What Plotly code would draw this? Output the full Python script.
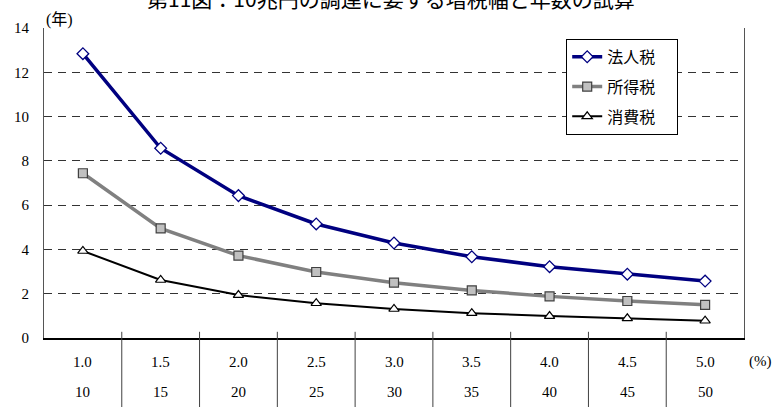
import plotly.graph_objects as go

# ---- data ----
rates_pct = ["1.0", "1.5", "2.0", "2.5", "3.0", "3.5", "4.0", "4.5", "5.0"]
rates_pts = ["10", "15", "20", "25", "30", "35", "40", "45", "50"]
corp_tax = [12.84, 8.57, 6.43, 5.15, 4.29, 3.67, 3.22, 2.88, 2.57]
income_tax = [7.44, 4.95, 3.72, 2.98, 2.50, 2.15, 1.88, 1.67, 1.50]
consumption_tax = [3.93, 2.62, 1.94, 1.57, 1.31, 1.12, 0.99, 0.89, 0.78]
series_names = ["法人税", "所得税", "消費税"]
y_ticks = [0, 2, 4, 6, 8, 10, 12, 14]
title_text = "第11図：10兆円の調達に要する増税幅と年数の試算"

xs = list(range(len(rates_pct)))
SERIF = "Liberation Serif, Times New Roman, Noto Sans CJK JP, serif"
CJK = "Liberation Serif, Noto Sans CJK JP, serif"
PAD = "\u00a0" * 4

fig = go.Figure()
fig.add_trace(go.Scatter(
    x=xs, y=corp_tax, name=series_names[0] + PAD, mode="lines+markers",
    line=dict(color="#000080", width=3.5),
    marker=dict(symbol="diamond", size=9, color="white",
                line=dict(color="#000080", width=1.3)),
    legendgroup="a"))
fig.add_trace(go.Scatter(
    x=xs, y=income_tax, name=series_names[1] + PAD, mode="lines+markers",
    line=dict(color="#808080", width=3.5),
    marker=dict(symbol="square", size=9, color="#C0C0C0",
                line=dict(color="#404040", width=1.2)),
    legendgroup="b"))
fig.add_trace(go.Scatter(
    x=xs, y=consumption_tax, name=series_names[2] + PAD, mode="lines+markers",
    line=dict(color="#000000", width=2),
    marker=dict(symbol="triangle-up", size=9, color="white",
                line=dict(color="#000000", width=1.2)),
    legendgroup="c"))

# table separators below the axis (category boundaries)
for i in range(len(xs) - 1):
    fig.add_shape(type="line", xref="x", yref="paper",
                  x0=i + 0.5, x1=i + 0.5, y0=0.02, y1=-0.35,
                  line=dict(color="#404040", width=1))

# table row labels
for i, (a, b) in enumerate(zip(rates_pct, rates_pts)):
    fig.add_annotation(x=i, y=-0.077, xref="x", yref="paper", text=a,
                       showarrow=False, font=dict(family=SERIF, size=15, color="black"),
                       yanchor="middle")
    fig.add_annotation(x=i, y=-0.174, xref="x", yref="paper", text=b,
                       showarrow=False, font=dict(family=SERIF, size=15, color="black"),
                       yanchor="middle")

fig.add_annotation(x=1.0, y=-0.077, xref="paper", yref="paper", text="(%)",
                   showarrow=False, xanchor="left", xshift=3,
                   font=dict(family=SERIF, size=15, color="black"), yanchor="middle")
fig.add_annotation(x=0.0, y=1.0, xref="paper", yref="paper", text="(年)",
                   showarrow=False, xanchor="left", yanchor="bottom", yshift=-3,
                   font=dict(family=CJK, size=16, color="black"))

fig.update_layout(
    width=777, height=407,
    margin=dict(l=44, r=33, t=28, b=69),
    paper_bgcolor="white", plot_bgcolor="white",
    title=dict(text=title_text, x=0.503, xanchor="center", y=1.0, yref="container",
               yanchor="middle", font=dict(family="Noto Sans CJK JP", size=21, color="black")),
    showlegend=True,
    legend=dict(x=0.746, y=0.965, xanchor="left", yanchor="top",
                bgcolor="white", bordercolor="black", borderwidth=1,
                font=dict(family=CJK, size=16, color="black"),
                traceorder="grouped", tracegroupgap=6, itemwidth=30),
    xaxis=dict(range=[-0.5, len(xs) - 0.5], showticklabels=False, showgrid=False,
               zeroline=False, showline=True, linecolor="black", linewidth=1.5,
               ticks=""),
    yaxis=dict(range=[0, 14], tickvals=y_ticks, showgrid=True, gridcolor="#333333",
               griddash="8px,6px", gridwidth=1, zeroline=False,
               showline=True, linecolor="#555555", linewidth=1.2, mirror=True,
               ticks="", ticklabelstandoff=11,
               tickfont=dict(family=SERIF, size=15, color="black")),
)

fig.write_html("out.html", config={"displayModeBar": False},
               post_script="document.body.style.margin='0px';")
